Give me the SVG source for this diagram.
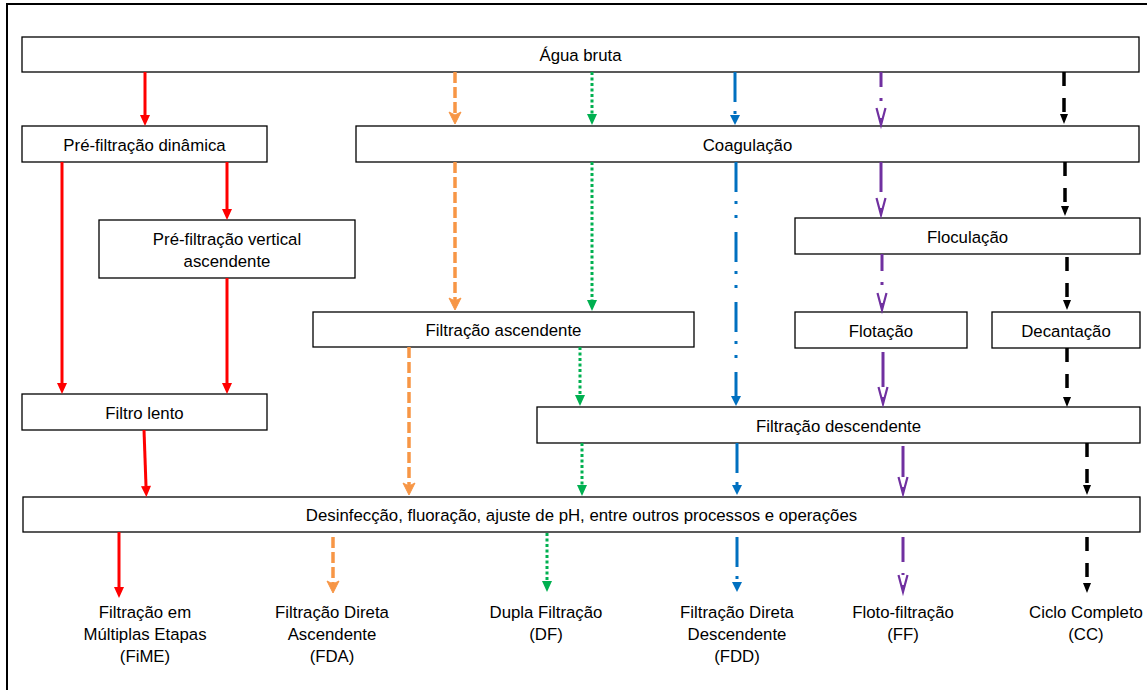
<svg xmlns="http://www.w3.org/2000/svg" width="1147" height="690" viewBox="0 0 1147 690">
  <style>
    .frame { fill: none; stroke: #000; stroke-width: 2; }
    .box { fill: #fff; stroke: #000; stroke-width: 1.3; }
    text { font-family: "Liberation Sans", Arial, sans-serif; font-size: 16.8px; fill: #000; text-anchor: middle; }
    .c { fill: none; }
    .red { stroke: #FF0000; stroke-width: 3; marker-end: url(#ah-red); }
    .orange { stroke: #F79646; stroke-width: 3.5; stroke-dasharray: 11 4; marker-end: url(#ah-orange); }
    .green { stroke: #00B050; stroke-width: 3; stroke-dasharray: 3 2.5; marker-end: url(#ah-green); }
    .blue { stroke: #0070C0; stroke-width: 3; stroke-dasharray: 30 9 3 11 3 14; marker-end: url(#ah-blue); }
    .purple { stroke: #7030A0; stroke-width: 3; stroke-dasharray: 30 11 3 11; marker-end: url(#ah-purple); }
    .solid { stroke-dasharray: none; }
    .black { stroke: #000; stroke-width: 3.5; stroke-dasharray: 14 12; marker-end: url(#ah-black); }
  </style>
  <defs>
    <marker id="ah-red" markerUnits="userSpaceOnUse" orient="auto" markerWidth="12" markerHeight="11" refX="0" refY="5" overflow="visible">
      <path d="M0,0 L11,5 L0,10 Z" fill="#FF0000"/>
    </marker>
    <marker id="ah-orange" markerUnits="userSpaceOnUse" orient="auto" markerWidth="13" markerHeight="13" refX="3" refY="6" overflow="visible">
      <path d="M0,0 L12,6 L0,12 L3,6 Z" fill="#F79646" stroke="#F79646" stroke-width="1" stroke-linejoin="round"/>
    </marker>
    <marker id="ah-green" markerUnits="userSpaceOnUse" orient="auto" markerWidth="12" markerHeight="11" refX="0" refY="5" overflow="visible">
      <path d="M0,0 L11,5 L0,10 Z" fill="#00B050"/>
    </marker>
    <marker id="ah-blue" markerUnits="userSpaceOnUse" orient="auto" markerWidth="11" markerHeight="11" refX="0" refY="5" overflow="visible">
      <path d="M0,0 L10,5 L0,10 Z" fill="#0070C0"/>
    </marker>
    <marker id="ah-purple" markerUnits="userSpaceOnUse" orient="auto" markerWidth="18" markerHeight="10" refX="0" refY="4.5" overflow="visible">
      <path d="M0,0 L17,4.5 L0,9" fill="none" stroke="#7030A0" stroke-width="2.2" stroke-linejoin="miter"/>
      <path d="M10,2.6 L17,4.5 L10,6.4 Z" fill="#7030A0"/>
    </marker>
    <marker id="ah-black" markerUnits="userSpaceOnUse" orient="auto" markerWidth="11" markerHeight="9" refX="0" refY="4" overflow="visible">
      <path d="M0,0 L10,4 L0,8 Z" fill="#000"/>
    </marker>
  </defs>

  <!-- outer frame -->
  <rect class="frame" x="7" y="4" width="1150" height="700"/>

  <!-- process steps -->
  <g id="agua-bruta">
    <rect class="box" x="22" y="37" width="1117" height="35"/>
    <text x="580.5" y="61">Água bruta</text>
  </g>
  <g id="pre-filtracao-dinamica">
    <rect class="box" x="22" y="126" width="245" height="36"/>
    <text x="144.5" y="150.5">Pré-filtração dinâmica</text>
  </g>
  <g id="coagulacao">
    <rect class="box" x="356" y="126" width="783" height="36"/>
    <text x="747.5" y="150.5">Coagulação</text>
  </g>
  <g id="pre-filtracao-vertical">
    <rect class="box" x="99" y="220" width="256" height="58"/>
    <text x="227" y="244.5">Pré-filtração vertical</text>
    <text x="227" y="266.5">ascendente</text>
  </g>
  <g id="floculacao">
    <rect class="box" x="795" y="218" width="345" height="36"/>
    <text x="967.5" y="242.5">Floculação</text>
  </g>
  <g id="filtracao-ascendente">
    <rect class="box" x="313" y="312" width="381" height="35"/>
    <text x="503.5" y="336">Filtração ascendente</text>
  </g>
  <g id="flotacao">
    <rect class="box" x="795" y="312" width="172" height="36"/>
    <text x="881" y="336.5">Flotação</text>
  </g>
  <g id="decantacao">
    <rect class="box" x="992" y="312" width="148" height="36"/>
    <text x="1066" y="336.5">Decantação</text>
  </g>
  <g id="filtro-lento">
    <rect class="box" x="22" y="394" width="245" height="36"/>
    <text x="144.5" y="418.5">Filtro lento</text>
  </g>
  <g id="filtracao-descendente">
    <rect class="box" x="537" y="407" width="603" height="36"/>
    <text x="838.5" y="431.5">Filtração descendente</text>
  </g>
  <g id="desinfeccao">
    <rect class="box" x="23" y="497" width="1117" height="35"/>
    <text x="581.5" y="521">Desinfecção, fluoração, ajuste de pH, entre outros processos e operações</text>
  </g>

  <!-- treatment routes (final labels) -->
  <g id="fime">
    <text x="145" y="618">Filtração em</text>
    <text x="145" y="640">Múltiplas Etapas</text>
    <text x="145" y="662">(FiME)</text>
  </g>
  <g id="fda">
    <text x="332" y="618">Filtração Direta</text>
    <text x="332" y="640">Ascendente</text>
    <text x="332" y="662">(FDA)</text>
  </g>
  <g id="df">
    <text x="546" y="618">Dupla Filtração</text>
    <text x="546" y="640">(DF)</text>
  </g>
  <g id="fdd">
    <text x="737" y="618">Filtração Direta</text>
    <text x="737" y="640">Descendente</text>
    <text x="737" y="662">(FDD)</text>
  </g>
  <g id="ff">
    <text x="903" y="618">Floto-filtração</text>
    <text x="903" y="640">(FF)</text>
  </g>
  <g id="cc">
    <text x="1086" y="618">Ciclo Completo</text>
    <text x="1086" y="640">(CC)</text>
  </g>

  <!-- connectors -->
  <g id="connectors">
    <!-- FiME -->
    <path class="c red" d="M145,72 V115"/>
    <path class="c red" d="M62,162 V383"/>
    <path class="c red" d="M227,162 V209"/>
    <path class="c red" d="M227,278 V383"/>
    <path class="c red" d="M144,430 L146,486"/>
    <path class="c red" d="M119,532 V587"/>
    <!-- FDA -->
    <path class="c orange" d="M455,72 V115"/>
    <path class="c orange" d="M455,162 V301"/>
    <path class="c orange" d="M409,347 V486"/>
    <path class="c orange" d="M333,537 V584"/>
    <!-- DF -->
    <path class="c green" d="M592,72 V114"/>
    <path class="c green" d="M592,162 V300"/>
    <path class="c green" d="M580,347 V395"/>
    <path class="c green" d="M582,443 V485"/>
    <path class="c green" d="M547,533 V581"/>
    <!-- FDD -->
    <path class="c blue" d="M735,72 V115"/>
    <path class="c blue" d="M736,162 V396"/>
    <path class="c blue" d="M737,443 V485"/>
    <path class="c blue" d="M737,537 V582"/>
    <!-- FF -->
    <path class="c purple" style="stroke-dasharray:15 11 3 100" d="M881,72 V108"/>
    <path class="c purple" d="M881,162 V198"/>
    <path class="c purple" style="stroke-dasharray:17 11 3 100" d="M882,254 V293"/>
    <path class="c purple solid" d="M883,352 V387"/>
    <path class="c purple solid" d="M903,446 V477"/>
    <path class="c purple" style="stroke-dasharray:25 11 3 100" d="M903,537 V575"/>
    <!-- CC -->
    <path class="c black" d="M1064,72 V114"/>
    <path class="c black" d="M1065,162 V206"/>
    <path class="c black" d="M1067,257 V300"/>
    <path class="c black" d="M1067,348 V397"/>
    <path class="c black" d="M1087,443 V485"/>
    <path class="c black" d="M1087,537 V583"/>
  </g>
</svg>
